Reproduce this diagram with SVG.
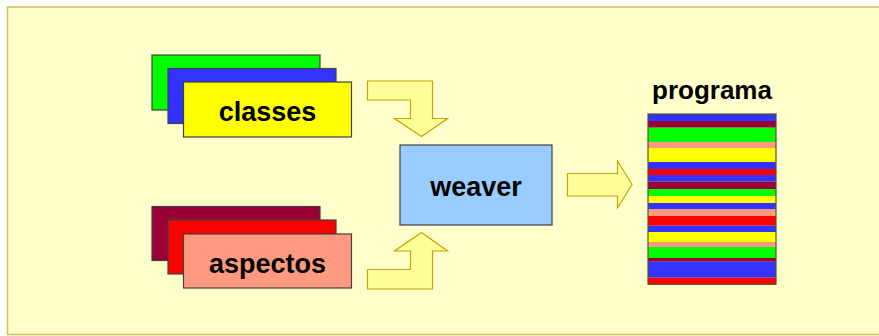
<svg xmlns="http://www.w3.org/2000/svg" width="879" height="336" viewBox="0 0 879 336">
<style>
.card{stroke:#404040;stroke-width:1.2}
.lbl{font-family:"Liberation Sans",Arial,sans-serif;font-weight:bold;font-size:27px;fill:#000;text-anchor:middle}
.arr{fill:#FFFF99;stroke:#C8A400;stroke-width:1.2;stroke-linejoin:miter}
</style>
<rect width="879" height="336" fill="#FFFFFF"/>
<rect x="7.5" y="7" width="900" height="327.5" fill="#FFFFCC" stroke="#D6C25A" stroke-width="1.6"/>
<g id="classes">
<rect class="card" x="152" y="55" width="168" height="55" fill="#00FF00"/>
<rect class="card" x="168" y="68.5" width="168" height="55" fill="#3333FF"/>
<rect class="card" x="183.5" y="82" width="168" height="55" fill="#FFFF00"/>
<text class="lbl" x="267.5" y="120.5">classes</text>
</g>
<g id="aspectos">
<rect class="card" x="152" y="206.5" width="168" height="54" fill="#990033"/>
<rect class="card" x="168" y="220" width="168" height="54" fill="#FF0000"/>
<rect class="card" x="183.5" y="234" width="168" height="54" fill="#FF9980"/>
<text class="lbl" x="267.5" y="273">aspectos</text>
</g>
<g id="weaver">
<rect x="400" y="145" width="152" height="80" fill="#99CCFF" stroke="#404040" stroke-width="1.2"/>
<text class="lbl" x="476" y="196">weaver</text>
</g>
<g id="programa">
<text class="lbl" x="712" y="99" style="font-size:26px">programa</text>
<rect x="648" y="114" width="128" height="7" fill="#3333FF"/>
<rect x="648" y="121" width="128" height="6.7" fill="#990033"/>
<rect x="648" y="127.7" width="128" height="14.3" fill="#00FF00"/>
<rect x="648" y="142" width="128" height="6" fill="#FF9980"/>
<rect x="648" y="148" width="128" height="14" fill="#FFFF00"/>
<rect x="648" y="162" width="128" height="7" fill="#3333FF"/>
<rect x="648" y="169" width="128" height="6" fill="#FF0000"/>
<rect x="648" y="175" width="128" height="6.7" fill="#3333FF"/>
<rect x="648" y="181.7" width="128" height="7.3" fill="#990033"/>
<rect x="648" y="189" width="128" height="7" fill="#00FF00"/>
<rect x="648" y="196" width="128" height="7" fill="#FFFF00"/>
<rect x="648" y="203" width="128" height="6" fill="#3333FF"/>
<rect x="648" y="209" width="128" height="7" fill="#FF9980"/>
<rect x="648" y="216" width="128" height="9.7" fill="#FF0000"/>
<rect x="648" y="225.7" width="128" height="6.3" fill="#3333FF"/>
<rect x="648" y="232" width="128" height="10" fill="#FFFF00"/>
<rect x="648" y="242" width="128" height="5" fill="#FF9980"/>
<rect x="648" y="247" width="128" height="11" fill="#00FF00"/>
<rect x="648" y="258" width="128" height="3.7" fill="#990033"/>
<rect x="648" y="261.7" width="128" height="16" fill="#3333FF"/>
<rect x="648" y="277.7" width="128" height="6.6" fill="#FF0000"/>
<rect x="648" y="114" width="128" height="170.3" fill="none" stroke="#555533" stroke-width="1.2"/>
</g>
<g id="connectors">
<polygon class="arr" points="367.5,81 432.5,81 432.5,118.5 447.5,118.5 421.5,136.5 394.5,118.5 410.5,118.5 410.5,100 367.5,100"/>
<polygon class="arr" points="421.5,232.5 447.5,251 432.5,251 432.5,289 367.5,289 367.5,269.5 410.5,269.5 410.5,251 394.5,251"/>
<polygon class="arr" points="567.5,173.5 617.5,173.5 617.5,161 632,184.5 617.5,208 617.5,196 567.5,196"/>
</g>
</svg>
